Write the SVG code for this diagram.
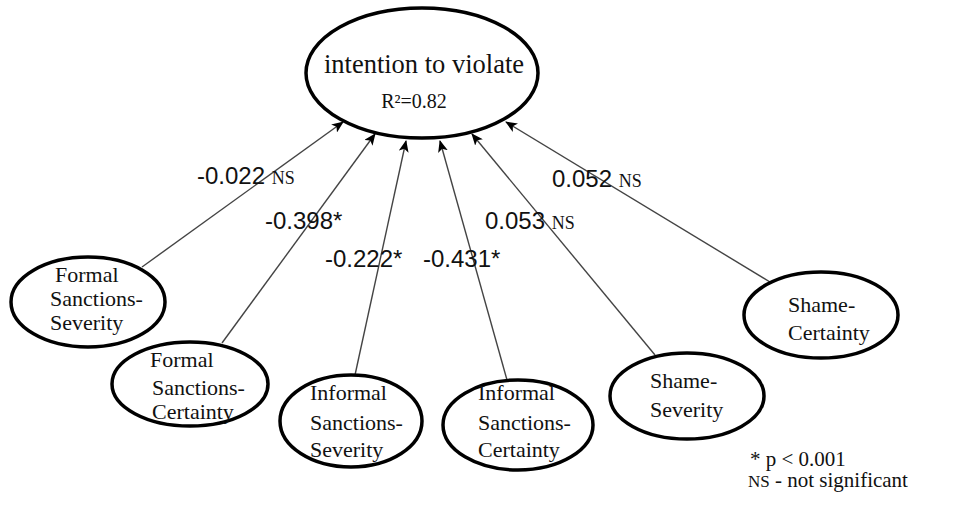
<svg xmlns="http://www.w3.org/2000/svg" width="970" height="512" viewBox="0 0 970 512">
<style>
.node ellipse{fill:#fff;stroke:#000;stroke-width:3.5}
.nt{font-family:"Liberation Serif","Times New Roman",serif;font-size:22px;fill:#111}
.lbl{font-family:"Liberation Sans",Arial,sans-serif;font-size:24px;fill:#111}
.ns{font-family:"Liberation Serif","Times New Roman",serif;font-size:18px;fill:#111}
.conn line{stroke:#444;stroke-width:1.4;marker-end:url(#ah)}
.leg{font-family:"Liberation Serif","Times New Roman",serif;font-size:21px;fill:#111}
</style>
<defs>
<marker id="ah" markerUnits="userSpaceOnUse" markerWidth="12" markerHeight="10" refX="11" refY="5" orient="auto">
<path d="M0,0 L12,5 L0,10 L3,5 Z" fill="#000"/>
</marker>
</defs>
<g id="connectors" class="conn">
<line x1="142" y1="267" x2="343" y2="122"/>
<line x1="222" y1="343" x2="375" y2="134"/>
<line x1="355" y1="375" x2="406" y2="141"/>
<line x1="507" y1="380" x2="440" y2="141"/>
<line x1="655" y1="355" x2="472" y2="134"/>
<line x1="770" y1="282" x2="506" y2="122"/>
</g>
<g id="intention" class="node">
<ellipse cx="422" cy="73" rx="116" ry="65"/>
<text x="424" y="73" text-anchor="middle" style="font-family:'Liberation Serif','Times New Roman',serif;font-size:26.5px;fill:#111">intention to violate</text>
<text x="414" y="108" text-anchor="middle" style="font-family:'Liberation Serif','Times New Roman',serif;font-size:20px;fill:#111">R²=0.82</text>
</g>
<g id="fs-severity" class="node">
<ellipse cx="88" cy="302" rx="77" ry="45"/>
<text class="nt" x="55" y="282">Formal</text>
<text class="nt" x="50" y="306">Sanctions-</text>
<text class="nt" x="50" y="330">Severity</text>
</g>
<g id="fs-certainty" class="node">
<ellipse cx="190" cy="384" rx="78" ry="42"/>
<text class="nt" x="150" y="367">Formal</text>
<text class="nt" x="152" y="395">Sanctions-</text>
<text class="nt" x="152" y="419">Certainty</text>
</g>
<g id="is-severity" class="node">
<ellipse cx="351" cy="421" rx="71" ry="46"/>
<text class="nt" x="310" y="400">Informal</text>
<text class="nt" x="310" y="430">Sanctions-</text>
<text class="nt" x="310" y="457">Severity</text>
</g>
<g id="is-certainty" class="node">
<ellipse cx="518" cy="425" rx="75" ry="45"/>
<text class="nt" x="478" y="400">Informal</text>
<text class="nt" x="478" y="430">Sanctions-</text>
<text class="nt" x="478" y="457">Certainty</text>
</g>
<g id="shame-severity" class="node">
<ellipse cx="687" cy="396" rx="77" ry="43"/>
<text class="nt" x="650" y="388">Shame-</text>
<text class="nt" x="650" y="417">Severity</text>
</g>
<g id="shame-certainty" class="node">
<ellipse cx="821" cy="315" rx="77" ry="43"/>
<text class="nt" x="788" y="312">Shame-</text>
<text class="nt" x="788" y="340">Certainty</text>
</g>
<g id="labels">
<text class="lbl" x="197" y="184">-0.022 <tspan class="ns">NS</tspan></text>
<text class="lbl" x="265" y="229">-0.398*</text>
<text class="lbl" x="325" y="267">-0.222*</text>
<text class="lbl" x="423" y="267">-0.431*</text>
<text class="lbl" x="485" y="229">0.053 <tspan class="ns">NS</tspan></text>
<text class="lbl" x="552" y="187">0.052 <tspan class="ns">NS</tspan></text>
</g>
<g id="legend">
<text class="leg" x="750" y="466">* p &lt; 0.001</text>
<text class="leg" x="748" y="487"><tspan style="font-size:17px">NS</tspan> - not significant</text>
</g>
</svg>
